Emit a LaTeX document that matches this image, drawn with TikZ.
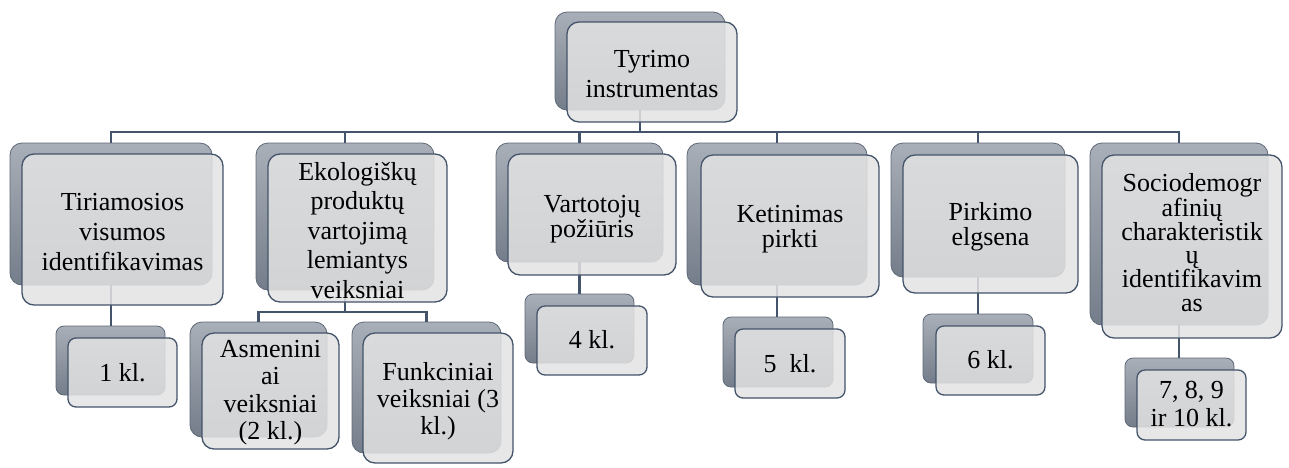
\documentclass[tikz,border=0pt]{standalone}
\usepackage{fontspec}
\setmainfont{Liberation Serif}
\usetikzlibrary{fit}
\definecolor{slate}{HTML}{44546A}
\definecolor{cardedge}{HTML}{5F6877}
\definecolor{cardtop}{HTML}{A9AFB8}
\definecolor{cardbot}{HTML}{747D8A}
\definecolor{cardface}{HTML}{E3E3E3}
\pgfdeclarelayer{back}
\pgfdeclarelayer{wires}
\pgfsetlayers{back,wires,main}
\tikzset{
  backcard/.style={draw=cardedge, line width=0.8pt, top color=cardtop, bottom color=cardbot,
    rounded corners=12pt, inner sep=0pt, outer sep=0pt},
  frontcard/.style={draw=slate, line width=1.3pt, fill=cardface, fill opacity=0.85,
    rounded corners=12pt, inner sep=0pt, outer sep=0pt},
  cardtext/.style={inner sep=0pt, align=center, anchor=base, text=black},
  small/.style={rounded corners=8pt},
  wire/.style={draw=slate, line width=2.6pt},
}
% #1 name, #2 back corners, #3 front corners, #4 corner style,
% #5 baseline of the last text line, #6 line spacing, #7 text
\newcommand\card[7]{%
  \begin{pgfonlayer}{back}
    \node[backcard, fit={#2}, #4] (#1b) {};
  \end{pgfonlayer}
  \node[frontcard, fit={#3}, #4] (#1) {};
  \coordinate (#1y) at (0,#5);
  \node[cardtext, font=\fontsize{26}{#6}\selectfont] (#1t) at (#1.center |- #1y) {#7};
}
\begin{document}
\begin{tikzpicture}[x=1pt, y=-1pt]
\useasboundingbox (0,0) rectangle (1289,467);

% root
\card{top}{(555,12) (725,110)}{(567,22) (737,122)}{}{97}{30}{Tyrimo\\instrumentas}

% first level
\card{t1}{(10,143) (212,285)}{(22,154) (223,305)}{}{270}{30}{Tiriamosios\\visumos\\identifikavimas}
\card{t2}{(256,143) (434,290)}{(268,154) (447,302)}{}{298}{29.5}{Ekologiškų\\produktų\\vartojimą\\lemiantys\\veiksniai}
\card{t3}{(496,143) (663,262)}{(508,154) (676,275)}{}{237}{25}{Vartotojų\\požiūris}
\card{t4}{(687,143) (867,285)}{(701,155) (879,297)}{}{247}{25}{Ketinimas\\pirkti}
\card{t5}{(891,143) (1065,277)}{(903,155) (1078,293)}{}{245}{25}{Pirkimo\\elgsena}
\card{t6}{(1090,143) (1268,325)}{(1102,155) (1282,338)}{}{311}{23.6}{Sociodemogr\\afinių\\charakteristik\\ų\\identifikavim\\as}

% second level
\card{k1}{(56,326) (165,395)}{(68,338) (177,407)}{small}{381}{28}{1 kl.}
\card{a1}{(190,322) (327,437)}{(202,333) (339,449)}{}{439.5}{27.5}{Asmenini\\ai\\veiksniai\\(2 kl.)}
\card{a2}{(352,322) (501,453)}{(363,333) (513,463)}{}{434}{27}{Funkciniai\\veiksniai (3\\kl.)}
\card{k3}{(525,294) (634,363)}{(537,306) (647,375)}{small}{348}{28}{4 kl.}
\card{k4}{(723,317) (833,387)}{(735,329) (845,398)}{small}{372}{28}{5~~kl.}
\card{k5}{(923,314) (1033,383)}{(936,326) (1045,395)}{small}{368}{28}{6 kl.}
\card{k6}{(1125,358) (1234,427)}{(1137,370) (1246,440)}{small}{426.5}{28.5}{7, 8, 9\\ir 10 kl.}

% connectors
\begin{pgfonlayer}{wires}
  \coordinate (bus) at (640,132);
  \foreach \c in {t1,t2,t3,t4,t5,t6}
    \draw[wire] (topb.south) -- (topb.south |- bus) -| (\c b.north);
  \coordinate (bus2) at (345,312);
  \foreach \c in {a1,a2}
    \draw[wire] (t2b.south) -- (t2b.south |- bus2) -| (\c b.north);
  \draw[wire] (t1b.south) -- (t1b.south |- k1b.north);
  \draw[wire] (t3b.south) -- (t3b.south |- k3b.north);
  \draw[wire] (t4b.south) -- (t4b.south |- k4b.north);
  \draw[wire] (t5b.south) -- (t5b.south |- k5b.north);
  \draw[wire] (t6b.south) -- (t6b.south |- k6b.north);
\end{pgfonlayer}
\end{tikzpicture}
\end{document}
